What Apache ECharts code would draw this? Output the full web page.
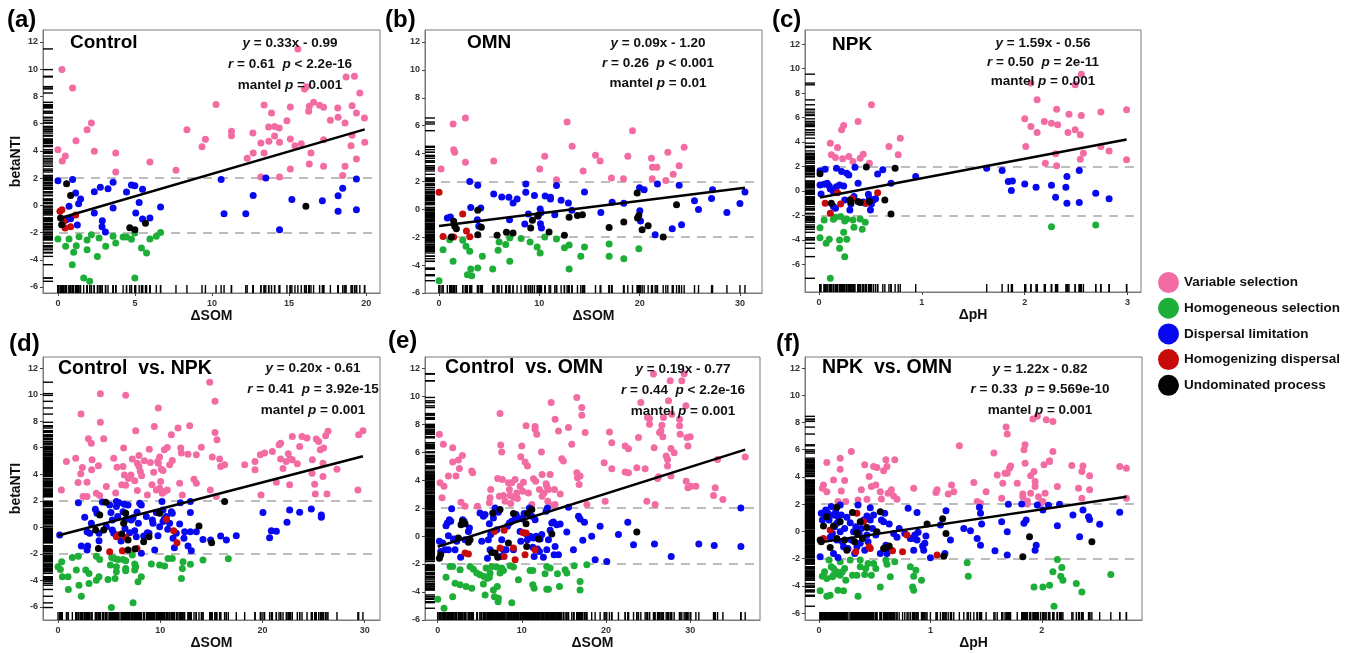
<!DOCTYPE html>
<html><head><meta charset="utf-8">
<script src="https://cdn.jsdelivr.net/npm/echarts@6/dist/echarts.min.js"></script>
<style>html,body{margin:0;padding:0;background:#fff}#c{width:1356px;height:653px}</style>
</head><body><div id="c"></div>
<script>
const CATEGORIES = ['Variable selection','Homogeneous selection','Dispersal limitation','Homogenizing dispersal','Undominated process'];
const COLORS = ['#F26CA3','#1DAE38','#0808EE','#C80A0A','#050505'];

// (a) Control
const a_vs = [[0,4.09],[0.28,3.26],[0.26,9.97],[0.48,3.62],[0.95,8.62],[1.17,4.75],[1.89,5.56],[2.17,6.05],[2.36,3.97],[3.75,3.85],[3.75,2.45],[5.97,3.18],[7.66,2.57],[8.37,5.56],[9.35,4.31],[9.57,4.85],[10.26,7.4],[11.26,5.44],[11.26,5.12],[12.28,3.45],[12.65,5.31],[12.67,3.85],[13.17,4.58],[13.17,2.08],[13.38,7.37],[13.38,3.85],[13.67,5.76],[13.69,4.7],[13.86,6.78],[14.06,5.8],[14.06,5.09],[14.36,5.68],[14.38,4.63],[14.38,2.08],[14.86,6.22],[15.08,7.22],[15.08,4.87],[15.08,2.67],[15.38,4.38],[15.57,11.49],[15.79,4.53],[16.0,8.55],[16.12,8.72],[16.27,6.91],[16.31,7.27],[16.31,3.04],[16.42,3.85],[16.59,7.57],[16.98,7.35],[17.24,7.2],[17.24,4.82],[17.24,2.87],[17.68,6.25],[18.16,7.15],[18.18,6.47],[18.63,6.05],[18.63,2.87],[18.48,2.2],[18.7,9.43],[19.09,7.32],[19.09,5.14],[19.02,4.38],[19.24,9.48],[19.37,6.78],[19.37,3.4],[19.59,8.25],[19.89,6.42],[19.91,4.63]];
const a_hs = [[0,-2.47],[0.5,-3.01],[0.72,-2.47],[1.02,-3.45],[0.93,-4.36],[1.19,-2.96],[1.37,-2.3],[1.67,-5.34],[1.89,-2.55],[2.06,-5.58],[2.17,-2.16],[1.89,-3.26],[2.56,-3.75],[2.67,-2.4],[3.1,-3.01],[3.58,-2.28],[3.75,-2.77],[4.23,-2.33],[4.45,-2.33],[4.77,-2.5],[4.99,-2.03],[4.99,-5.34],[5.42,-3.13],[5.75,-3.5],[5.97,-2.47],[6.38,-2.28],[6.66,-2.0]];
const a_dl = [[0,1.81],[0.95,1.89],[1.15,0.91],[0.72,-0.07],[1.34,0.12],[1.47,0.47],[0.82,-0.98],[0.54,-1.05],[1.26,-1.44],[2.36,1.0],[2.36,-0.56],[2.75,1.32],[2.88,-1.13],[2.86,-1.57],[3.08,-1.96],[3.25,1.22],[3.58,1.69],[3.58,-0.2],[4.45,0.98],[4.77,1.49],[4.99,1.44],[5.27,0.2],[5.05,-0.56],[5.49,1.18],[5.49,-1.0],[5.97,-0.93],[6.66,-0.12],[10.59,1.89],[10.78,-0.61],[12.19,-0.61],[12.67,0.73],[13.49,2.0],[14.38,-1.79],[15.18,0.42],[17.16,0.34],[18.18,0.71],[18.18,-0.44],[18.48,1.25],[19.37,1.93],[19.37,-0.32]];
const a_hd = [[0.13,-0.44],[0.26,-0.32],[0.46,-1.67],[0.82,-1.57],[1.15,-0.71],[0.37,-1.18]];
const a_up = [[0.56,1.59],[0.82,0.73],[0.24,-1.42],[0.17,-0.93],[4.66,-1.64],[4.99,-1.79],[5.68,-1.32],[16.09,-0.07]];

// (b) OMN
const b_vs = [[0.2,2.89],[1.4,6.12],[1.46,4.28],[1.56,4.09],[2.63,6.55],[2.63,3.37],[5.45,3.47],[10.04,2.89],[10.54,3.8],[11.71,2.13],[12.77,6.26],[13.27,4.52],[14.37,2.75],[15.6,3.87],[16.06,3.47],[17.19,2.25],[18.39,2.2],[18.82,3.8],[19.29,5.64],[21.18,3.66],[21.28,3.01],[21.72,3.01],[21.25,2.2],[22.61,2.06],[22.81,4.09],[23.35,2.51],[23.94,3.13],[24.44,4.45]];
const b_hs = [[0,-5.12],[0.4,-2.89],[1.06,-2.18],[1.4,-3.73],[2.36,-2.22],[2.69,-2.65],[2.83,-4.69],[3.06,-3.01],[3.16,-4.28],[3.26,-4.76],[3.86,-4.21],[4.32,-3.37],[5.35,-4.28],[5.89,-2.94],[5.99,-2.34],[6.65,-2.53],[7.05,-2.06],[7.05,-3.73],[8.18,-2.1],[9.08,-2.34],[9.78,-2.7],[10.08,-3.13],[10.54,-1.98],[11.71,-2.13],[12.5,-2.75],[12.97,-2.56],[12.97,-4.28],[14.13,-3.37],[14.5,-2.7],[16.96,-2.49],[16.96,-3.37],[18.42,-3.54],[19.92,-2.82]];
const b_dl = [[0.83,-0.62],[1.13,-0.55],[3.06,2.0],[3.16,0.14],[3.86,1.72],[3.82,-0.74],[4.16,0.1],[3.96,-1.22],[5.45,1.1],[6.25,0.88],[6.96,0.86],[7.03,-0.74],[7.38,0.45],[7.78,0.74],[8.65,1.82],[8.65,1.22],[8.55,-1.05],[8.91,-0.33],[9.51,1.0],[9.88,-0.5],[10.08,0.02],[10.18,-0.22],[10.11,-1.03],[10.21,-1.34],[10.58,0.96],[11.11,0.74],[11.11,0.86],[11.54,-0.38],[11.71,1.7],[12.17,0.65],[12.9,0.45],[13.24,-0.07],[14.5,1.24],[16.13,-0.22],[17.26,0.5],[18.42,0.43],[19.99,1.55],[20.45,1.41],[20.02,-0.1],[20.09,-0.84],[21.78,1.82],[21.55,-1.82],[23.94,1.72],[23.25,-1.39],[24.18,-1.1],[25.47,0.62],[25.87,-0.02],[27.27,1.41],[27.17,0.77],[28.7,-0.22],[30.0,0.41],[30.5,1.24]];
const b_hd = [[0,1.22],[0.4,-1.94],[1.46,-1.98],[2.36,-0.33],[2.73,-1.55],[3.06,-1.96]];
const b_up = [[1.23,-1.98],[1.46,-0.86],[1.56,-1.22],[1.73,-1.39],[3.86,-0.07],[4.22,-1.29],[3.86,-1.82],[5.79,-1.86],[6.72,-1.65],[7.38,-1.7],[9.14,-1.34],[9.31,-0.79],[9.84,-0.45],[10.97,-1.63],[12.5,-1.86],[12.97,-0.57],[13.8,-0.45],[14.3,-0.38],[16.96,-1.31],[18.42,-0.91],[19.75,1.17],[19.79,-0.62],[19.92,-0.45],[20.25,-1.46],[20.85,-1.17],[23.68,0.33],[22.35,-1.98]];

// (c) NPK
const c_vs = [[0.11,3.9],[0.12,2.95],[0.16,2.73],[0.18,3.55],[0.22,4.99],[0.24,5.35],[0.23,2.62],[0.29,2.81],[0.33,2.4],[0.38,5.67],[0.4,2.67],[0.43,3.0],[0.49,2.26],[0.51,7.04],[0.68,3.63],[0.77,2.95],[0.79,4.31],[2.01,3.63],[2.0,5.89],[2.06,5.26],[2.12,4.77],[2.12,7.44],[2.19,5.67],[2.2,2.26],[2.26,5.54],[2.31,6.68],[2.32,5.4],[2.31,2.05],[2.3,3.03],[2.43,6.27],[2.42,4.77],[2.49,4.99],[2.49,8.67],[2.54,4.58],[2.55,9.54],[2.55,6.16],[2.54,2.59],[2.57,3.08],[2.74,6.44],[2.74,3.63],[2.82,3.27],[2.99,6.63],[2.99,2.54],[2.06,8.81]];
const c_hs = [[0.01,-3.0],[0.01,-3.82],[0.05,-2.37],[0.07,-4.28],[0.1,-3.95],[0.11,-7.14],[0.14,-2.32],[0.16,-2.15],[0.2,-4.69],[0.2,-4.01],[0.21,-2.1],[0.24,-3.38],[0.25,-2.45],[0.27,-2.29],[0.25,-5.37],[0.27,-3.95],[0.33,-2.37],[0.34,-2.97],[0.4,-2.29],[0.42,-3.14],[0.45,-2.56],[2.26,-2.92],[2.69,-2.78]];
const c_dl = [[0.01,1.64],[0.06,1.77],[0.01,0.49],[0.05,0.55],[0.08,0.63],[0.1,0.41],[0.02,-0.25],[0.11,0.16],[0.14,-0.05],[0.17,1.85],[0.17,0.35],[0.14,-1.28],[0.16,-1.42],[0.2,0.49],[0.22,1.58],[0.24,0.41],[0.27,1.45],[0.29,1.31],[0.25,-0.74],[0.3,-1.55],[0.31,-1.06],[0.35,1.94],[0.34,-0.46],[0.38,0.63],[0.43,-0.9],[0.45,-1.01],[0.48,-0.27],[0.49,-0.6],[0.51,-1.06],[0.5,-1.55],[0.53,-0.74],[0.55,-0.65],[0.57,1.39],[0.62,1.72],[0.7,0.63],[0.94,1.17],[1.63,1.85],[1.78,1.66],[1.84,0.76],[1.88,0.82],[1.87,0.03],[2.0,0.57],[2.11,0.3],[2.26,0.46],[2.3,-0.52],[2.41,-1.01],[2.41,1.17],[2.4,0.3],[2.53,1.66],[2.53,-0.95],[2.69,-0.19],[2.82,-0.63]];
const c_hd = [[0.06,-1.01],[0.11,-1.83],[0.18,-0.14],[0.21,-1.06],[0.32,-0.65],[0.57,-0.14],[0.46,-1.01]];
const c_up = [[0.01,1.4],[0.12,-1.01],[0.3,-0.74],[0.31,-0.93],[0.38,-0.87],[0.4,-0.95],[0.46,1.95],[0.49,-0.87],[0.64,-0.74],[0.7,-1.88],[0.74,1.85]];

// (d) Control vs. NPK
const d_vs = [[0.33,2.82],[0.82,4.96],[1.73,5.21],[1.96,3.37],[2.25,8.53],[2.22,4.03],[2.38,4.51],[2.45,2.32],[2.84,2.32],[2.84,3.4],[2.97,6.67],[3.26,6.34],[3.29,4.33],[3.33,5.09],[3.75,2.57],[3.95,4.63],[4.08,2.39],[4.14,10.07],[4.14,7.91],[4.47,6.67],[4.73,3.07],[5.45,5.21],[5.64,2.59],[5.77,4.53],[6.23,3.2],[6.36,4.58],[6.42,5.97],[6.49,3.95],[6.62,9.94],[6.62,3.17],[6.88,3.68],[7.14,3.95],[7.27,5.14],[7.6,7.28],[7.5,3.5],[7.76,4.83],[7.76,2.77],[7.92,5.41],[7.92,4.58],[8.05,4.2],[8.18,3.88],[8.44,5.01],[8.74,2.44],[8.93,5.89],[9.03,4.88],[9.19,3.2],[9.36,4.15],[9.42,7.6],[9.62,2.82],[9.75,4.96],[9.81,4.83],[9.81,8.99],[9.94,2.95],[9.94,5.29],[10.04,3.45],[10.11,4.38],[10.2,2.57],[10.27,4.28],[10.4,5.84],[10.43,2.69],[10.69,6.02],[10.69,2.82],[10.92,4.71],[11.09,6.97],[11.18,5.04],[11.74,7.48],[11.9,3.32],[12.0,5.97],[12.07,5.59],[12.16,2.44],[12.72,5.51],[12.88,7.65],[13.3,3.63],[13.53,3.32],[13.53,5.46],[14.02,6.04],[14.84,10.93],[14.9,2.82],[15.09,5.29],[15.36,9.49],[15.49,2.32],[15.36,7.15],[15.55,6.6],[15.81,5.14],[15.91,4.58],[16.3,4.71],[18.26,4.71],[19.27,4.96],[19.27,4.33],[19.79,5.46],[19.86,2.44],[20.21,5.59],[20.97,5.72],[21.36,3.4],[21.62,6.22],[21.78,6.34],[21.78,5.14],[22.01,4.43],[22.33,4.96],[22.53,5.54],[22.66,3.2],[22.73,5.14],[22.92,6.85],[22.92,5.09],[23.41,4.78],[23.64,6.09],[23.87,6.85],[24.36,6.72],[24.85,4.08],[24.88,5.09],[25.11,3.25],[25.17,2.52],[25.27,6.65],[25.5,6.47],[25.66,5.84],[25.99,5.97],[25.92,3.83],[25.92,4.83],[26.18,6.9],[26.41,7.23],[26.31,2.52],[27.29,4.38],[29.41,6.97],[29.83,7.28],[29.34,2.82]];
const d_hs = [[0,-2.97],[0.23,-3.17],[0.42,-3.73],[0.36,-2.59],[0.98,-3.73],[1.01,-4.68],[1.4,-2.27],[1.79,-3.22],[1.99,-2.17],[2.05,-4.36],[2.28,-5.19],[2.71,-3.22],[3.03,-3.47],[3.03,-4.23],[3.75,-3.98],[3.75,-2.17],[4.01,-3.73],[4.08,-2.42],[4.89,-3.93],[5.12,-2.84],[5.22,-6.04],[5.25,-2.27],[5.54,-2.34],[5.58,-3.85],[5.71,-2.97],[5.71,-3.35],[5.87,-2.42],[6.36,-2.42],[6.62,-2.52],[6.62,-3.1],[6.62,-3.27],[7.27,-2.09],[7.34,-5.69],[7.5,-2.77],[7.5,-3.22],[7.6,-2.97],[7.83,-4.1],[8.15,-3.73],[9.13,-2.77],[9.94,-2.84],[10.43,-2.92],[10.76,-2.34],[11.18,-2.34],[12.23,-2.59],[12.16,-3.1],[12.07,-3.85],[12.95,-2.79],[14.18,-2.47],[16.66,-2.37]];
const d_dl = [[0.16,-0.58],[1.99,1.86],[2.61,0.76],[2.28,-1.41],[2.84,-0.33],[2.9,-1.41],[2.84,-1.71],[3.1,-0.45],[3.26,0.3],[3.65,1.36],[3.81,1.06],[4.01,-0.45],[4.01,-1.01],[4.34,1.91],[4.73,0.05],[5.05,1.69],[5.18,1.11],[5.31,0.55],[5.31,-0.2],[5.45,-0.45],[5.71,1.94],[5.71,1.56],[5.84,0.81],[5.97,1.86],[6.16,-1.03],[6.36,1.18],[6.49,1.74],[6.55,-0.08],[6.68,0.6],[6.85,1.69],[7.01,-0.4],[7.17,0.55],[7.34,0.73],[7.5,-0.25],[7.66,-0.7],[7.73,1.13],[7.86,0.3],[7.99,1.81],[8.15,1.69],[8.15,-1.96],[8.38,-0.65],[8.64,0.81],[8.74,-0.4],[8.9,-0.45],[9.23,0.55],[9.29,0.3],[9.46,-1.71],[9.62,1.11],[9.78,-0.63],[9.94,0.05],[10.17,1.94],[10.27,1.31],[10.27,0.43],[10.4,0.63],[10.6,0.81],[10.73,-0.15],[10.92,0.3],[11.09,1.18],[11.18,1.06],[11.38,-1.54],[11.25,-0.83],[11.57,-0.45],[11.9,0.25],[11.97,1.86],[12.32,-0.83],[12.39,-0.33],[12.72,-1.41],[12.95,1.94],[12.95,-0.33],[13.04,-1.76],[12.95,1.11],[13.53,-0.33],[14.18,-0.91],[14.93,-0.96],[15.91,-0.65],[16.47,-0.96],[17.44,-0.63],[20.05,1.11],[20.7,-0.78],[20.87,-0.25],[21.36,-0.3],[22.4,0.38],[22.66,1.31],[23.64,1.13],[24.78,1.38],[25.76,0.93],[25.76,0.76]];
const d_hd = [[5.05,-1.84],[5.71,-0.7],[5.87,-0.58],[6.29,-1.76],[6.62,-0.76],[7.73,-1.59],[10.6,0.6],[11.31,-0.25],[11.64,-1.16]];
const d_up = [[4.08,0.93],[3.68,-0.2],[3.95,-1.59],[4.47,-0.2],[4.66,1.89],[6.23,-0.5],[6.42,0.3],[6.62,1.06],[6.85,-0.96],[6.85,-1.71],[7.53,-1.64],[8.38,-1.08],[8.9,-0.7],[9.94,1.06],[13.79,0.1],[15.03,-1.16],[16.3,1.94]];

// (e) Control vs. OMN
const e_vs = [[0.2,7.27],[0.28,3.8],[0.52,2.73],[0.67,6.55],[0.75,3.56],[1.27,4.28],[1.78,5.28],[1.78,6.31],[2.18,4.28],[2.46,5.43],[2.58,4.83],[2.77,2.41],[2.93,5.76],[3.25,2.13],[4.04,4.64],[4.16,4.52],[4.72,2.13],[6.14,2.37],[6.22,2.73],[6.3,3.32],[7.13,4.11],[7.41,8.75],[7.49,6.5],[7.61,6.0],[7.69,4.04],[7.33,2.84],[7.81,2.89],[8.01,2.49],[8.4,3.8],[8.52,3.32],[8.6,2.89],[8.68,2.32],[8.8,3.8],[9.0,2.77],[9.2,4.04],[9.39,3.08],[9.47,2.68],[9.79,3.56],[9.87,5.67],[9.99,6.43],[10.11,3.2],[10.19,3.85],[10.38,5.28],[10.5,7.87],[10.66,5.0],[10.78,3.08],[11.18,2.25],[11.38,4.09],[11.57,7.82],[11.57,7.63],[11.65,3.92],[11.77,7.27],[12.09,3.32],[12.33,6.0],[12.41,4.4],[12.41,2.84],[12.64,3.08],[12.88,3.73],[12.96,3.56],[13.08,2.49],[13.16,3.32],[13.36,4.4],[13.48,9.54],[13.67,2.18],[13.87,3.32],[13.95,8.34],[13.95,2.25],[14.35,7.51],[14.55,3.01],[14.74,5.52],[14.94,5.36],[15.54,7.75],[15.93,6.55],[16.53,9.9],[16.53,4.52],[16.61,4.16],[16.81,3.68],[16.92,4.28],[17.12,9.18],[17.12,8.63],[17.52,7.39],[17.72,2.25],[19.9,2.49],[19.78,5.24],[20.41,7.43],[20.69,6.67],[20.69,4.81],[22.28,6.43],[22.67,6.24],[22.28,4.57],[22.67,4.52],[23.66,4.88],[23.86,7.03],[24.14,9.54],[24.65,4.81],[24.85,2.49],[24.93,8.46],[25.17,8.39],[25.17,7.98],[25.64,11.57],[25.72,6.31],[25.84,2.25],[26.12,4.11],[26.24,4.23],[26.36,7.39],[26.52,7.51],[26.64,7.91],[26.75,7.1],[26.83,8.46],[27.15,5.71],[27.31,5.47],[27.31,5.0],[27.43,9.66],[27.63,11.09],[27.71,4.28],[27.71,6.26],[27.82,8.7],[28.1,5.95],[28.74,8.34],[28.74,7.87],[28.81,7.27],[29.01,11.09],[29.29,11.6],[29.49,9.3],[29.53,3.92],[29.61,7.03],[29.73,6.43],[29.73,3.44],[30.0,7.1],[30.08,3.56],[30.68,3.56],[32.78,2.89],[32.98,3.44],[33.25,5.47],[33.89,2.61],[36.54,5.64]];
const e_hs = [[0,-4.52],[0.75,-5.16],[0.99,-2.94],[1.47,-2.18],[1.78,-2.18],[1.78,-4.33],[2.06,-3.37],[2.66,-2.41],[2.66,-3.49],[3.37,-3.61],[3.84,-2.18],[4.04,-3.73],[4.24,-2.37],[4.64,-2.65],[5.03,-2.77],[5.43,-3.42],[5.51,-2.89],[5.63,-4.21],[5.75,-2.29],[5.91,-3.01],[6.14,-2.94],[6.22,-2.65],[6.42,-2.18],[6.62,-3.85],[6.74,-4.33],[7.02,-2.22],[7.09,-3.61],[7.17,-4.69],[7.21,-4.45],[7.41,-2.65],[7.61,-2.29],[7.81,-2.46],[8.6,-2.13],[8.8,-4.76],[9.0,-2.22],[9.59,-3.13],[10.98,-2.46],[11.3,-2.46],[11.3,-3.49],[11.46,-3.73],[12.76,-2.7],[12.96,-3.8],[13.16,-3.8],[12.96,-2.18],[13.36,-2.29],[14.23,-2.7],[14.47,-3.61],[15.14,-2.41],[15.34,-2.65],[16.21,-2.13],[16.92,-3.25],[16.92,-3.85],[17.72,-2.06]];
const e_dl = [[0.2,-0.38],[0.36,-1.1],[0.59,-0.5],[0.87,-0.98],[0.99,0.74],[1.15,0.93],[1.27,0.02],[1.27,-0.98],[1.39,1.17],[1.55,1.05],[1.66,1.94],[1.86,-0.22],[2.06,-0.98],[2.18,-0.22],[2.26,-0.38],[2.73,-1.51],[2.97,1.17],[3.13,1.05],[3.25,-0.26],[3.65,0.33],[3.77,0.57],[5.03,1.65],[5.23,-0.38],[5.43,1.41],[5.63,1.53],[5.91,-1.58],[6.02,-0.26],[6.14,0.88],[6.22,-0.98],[6.3,0.1],[6.62,1.29],[6.82,2.0],[7.02,0.45],[7.21,1.7],[7.49,-1.46],[7.61,-0.26],[7.81,-0.98],[8.13,-0.98],[8.28,0.69],[8.52,0.93],[8.8,1.05],[9.0,-0.98],[9.2,1.22],[9.31,1.53],[9.59,1.29],[9.79,0.33],[9.87,-0.38],[10.11,1.22],[10.27,1.6],[10.5,0.17],[10.66,-0.26],[10.9,2.0],[10.98,-0.02],[11.18,1.41],[11.3,-0.81],[11.38,-0.14],[11.46,-1.46],[11.57,1.17],[11.69,-0.02],[11.85,-0.93],[12.09,-1.1],[12.17,-0.22],[12.37,0.1],[12.56,-1.51],[12.88,1.77],[12.96,-0.98],[13.04,2.0],[13.16,-0.26],[13.36,0.41],[13.56,0.93],[13.75,1.0],[13.83,-1.34],[13.95,-0.74],[14.15,0.81],[14.35,-1.34],[14.55,0.86],[15.34,0.29],[15.54,2.06],[16.13,-0.98],[16.73,1.41],[16.92,1.22],[17.24,-0.31],[17.44,0.98],[18.3,-0.02],[18.71,-1.7],[19.3,0.69],[20.09,-1.82],[21.48,0.1],[22.59,0.98],[23.27,-0.62],[25.76,-0.57],[27.75,-1.46],[31.03,-0.57],[32.86,-0.67],[36.03,2.0],[36.03,-0.74]];
const e_hd = [[3.25,-1.22],[3.65,-1.29],[6.74,0.33],[7.41,-0.86],[7.89,0.41],[7.89,-1.46],[9.0,-0.86],[9.2,-1.7],[10.11,0.26],[10.5,0.21],[10.38,-1.34],[11.57,-0.98]];
const e_up = [[0.2,-1.58],[0.36,-1.34],[2.46,-0.14],[2.77,0.81],[2.93,1.05],[3.25,0.88],[3.65,-0.45],[3.84,-0.26],[6.54,1.65],[6.42,-1.17],[6.82,-1.22],[7.13,-1.51],[7.41,1.89],[8.4,-0.5],[9.0,1.6],[10.66,1.6],[10.5,0.88],[10.58,-0.74],[11.18,1.89],[12.0,-0.22],[13.56,0.14],[23.66,0.29]];

// (f) NPK vs. OMN
const f_vs = [[0.03,3.17],[0.04,3.41],[0.07,2.92],[0.07,5.06],[0.13,3.78],[0.17,2.19],[0.19,4.57],[0.19,5.38],[0.2,2.97],[0.23,3.73],[0.24,2.19],[0.29,5.87],[0.35,2.31],[0.38,3.05],[0.41,4.89],[0.43,2.36],[0.45,4.03],[0.47,3.29],[0.49,4.76],[0.51,3.41],[0.52,4.69],[0.55,2.92],[0.56,2.38],[0.58,4.45],[0.6,5.26],[0.61,4.76],[0.62,2.8],[0.65,3.05],[0.67,2.6],[0.68,5.26],[0.7,2.36],[0.85,3.17],[1.05,2.85],[1.06,3.05],[1.16,2.75],[1.19,3.41],[1.21,2.92],[1.26,6.29],[1.39,3.59],[1.42,2.19],[1.45,2.06],[1.5,2.92],[1.57,5.75],[1.6,4.15],[1.64,2.43],[1.65,3.54],[1.67,4.27],[1.68,7.66],[1.69,7.15],[1.69,4.27],[1.71,4.64],[1.72,4.81],[1.78,3.54],[1.83,2.75],[1.83,2.55],[1.84,5.99],[1.85,6.36],[1.85,5.01],[1.87,2.24],[1.87,2.01],[1.9,4.08],[1.9,2.8],[1.92,8.25],[1.93,4.4],[1.94,3.66],[1.94,3.29],[1.96,8.45],[1.97,2.55],[1.99,2.06],[2.01,2.19],[2.02,4.89],[2.03,2.8],[2.04,8.2],[2.07,5.13],[2.07,5.18],[2.1,8.08],[2.1,5.87],[2.14,3.29],[2.27,4.84],[2.33,3.17],[2.36,4.4],[2.37,4.81],[2.36,2.43],[2.43,4.08],[2.43,3.05],[2.7,4.76],[2.76,4.64],[2.76,2.43]];
const f_hs = [[0.01,-4.37],[0.03,-3.29],[0.05,-2.97],[0.07,-4.76],[0.07,-3.46],[0.09,-2.11],[0.1,-4.69],[0.11,-2.6],[0.12,-3.34],[0.13,-3.22],[0.13,-2.73],[0.15,-3.09],[0.16,-2.97],[0.17,-4.32],[0.19,-2.23],[0.19,-3.22],[0.21,-2.97],[0.22,-4.37],[0.23,-2.73],[0.24,-3.59],[0.28,-2.11],[0.3,-3.22],[0.34,-3.22],[0.35,-4.76],[0.37,-2.6],[0.37,-2.11],[0.41,-3.17],[0.42,-2.73],[0.44,-2.36],[0.47,-3.22],[0.49,-2.36],[0.51,-2.73],[0.55,-4.08],[0.6,-2.11],[0.61,-2.41],[0.64,-3.34],[0.68,-2.23],[0.82,-2.6],[0.84,-4.08],[0.85,-4.32],[0.85,-3.29],[0.87,-2.85],[0.92,-3.59],[1.33,-2.31],[1.34,-3.29],[1.93,-4.08],[2.01,-4.08],[2.07,-3.95],[2.1,-2.97],[2.11,-5.5],[2.14,-2.06],[2.17,-3.29],[2.18,-2.65],[2.19,-3.59],[2.31,-3.83],[2.36,-4.45],[2.62,-3.17]];
const f_dl = [[0.02,1.33],[0.01,-1.87],[0.03,0.83],[0.05,1.08],[0.06,1.57],[0.08,1.33],[0.09,0.83],[0.1,-0.44],[0.11,1.82],[0.12,-0.15],[0.13,1.2],[0.13,-1.62],[0.14,0.34],[0.15,1.45],[0.16,-0.64],[0.16,0.59],[0.17,1.08],[0.17,-1.92],[0.19,1.94],[0.19,-0.02],[0.2,1.2],[0.21,-0.76],[0.22,-1.13],[0.23,0.22],[0.25,1.03],[0.26,-1.25],[0.28,0.64],[0.29,-0.64],[0.31,-0.02],[0.32,-1.62],[0.33,0.34],[0.34,-1.13],[0.35,1.94],[0.36,-0.15],[0.37,-0.88],[0.38,0.22],[0.4,0.83],[0.41,-1.38],[0.43,1.13],[0.43,-0.27],[0.44,-0.76],[0.46,1.74],[0.46,0.83],[0.48,0.22],[0.49,1.2],[0.51,-0.27],[0.55,-1.62],[0.56,0.83],[0.58,0.71],[0.59,1.33],[0.6,-1.01],[0.61,-1.62],[0.63,0.54],[0.65,-1.38],[0.67,-0.15],[0.7,-0.44],[0.72,0.22],[0.77,-0.15],[0.8,1.69],[0.82,-0.52],[0.84,-0.52],[0.85,-1.38],[0.86,-0.27],[0.88,-0.64],[0.88,1.38],[0.89,-0.07],[0.93,-1.08],[0.94,-1.38],[0.95,-0.88],[0.96,-0.34],[1.0,-1.94],[1.09,0.47],[1.13,-1.62],[1.14,1.52],[1.18,-0.64],[1.3,0.22],[1.36,0.05],[1.42,-0.52],[1.44,1.77],[1.45,1.33],[1.46,0.54],[1.45,-1.01],[1.58,-1.42],[1.64,0.71],[1.69,-0.02],[1.69,-1.74],[1.7,1.99],[1.82,2.01],[1.84,0.59],[1.86,0.83],[1.94,-1.38],[1.95,-1.01],[2.01,1.57],[1.96,1.94],[2.06,1.92],[2.14,0.42],[2.16,1.99],[2.28,1.2],[2.34,-0.39],[2.37,1.57],[2.42,1.08],[2.43,0.88],[2.52,0.52],[2.7,1.4]];
const f_hd = [[0.04,-0.52],[0.1,0.1],[0.34,1.33],[0.4,0.71],[0.45,-1.13],[0.46,-1.25],[0.33,-1.5],[0.66,-1.42],[0.75,-1.5],[0.79,-0.27],[1.06,-1.74]];
const f_up = [[0.01,-0.64],[0.02,-0.76],[0.04,0.39],[0.07,1.08],[0.1,-1.18],[0.13,0.39],[0.16,1.77],[0.16,-0.52],[0.19,0.71],[0.23,-0.64],[0.25,-1.38],[0.3,1.38],[0.32,-0.76],[0.34,-0.1],[0.37,0.71],[0.39,-0.52],[0.43,0.29],[0.52,-0.02],[0.55,1.45],[0.58,-1.25],[0.6,-1.2],[0.63,-1.08],[0.97,0.54],[1.11,0.93],[1.14,-0.15],[1.12,-1.82],[1.89,-0.39],[1.83,-1.87],[2.45,-0.76]];

const PANEL_DATA = [
  [a_vs,a_hs,a_dl,a_hd,a_up],
  [b_vs,b_hs,b_dl,b_hd,b_up],
  [c_vs,c_hs,c_dl,c_hd,c_up],
  [d_vs,d_hs,d_dl,d_hd,d_up],
  [e_vs,e_hs,e_dl,e_hd,e_up],
  [f_vs,f_hs,f_dl,f_hd,f_up]
];
const X_TICKS = [[0,5,10,15,20],[0,10,20,30],[0,1,2,3],[0,10,20,30],[0,10,20,30],[0,1,2]];
const Y_TICKS = [-6,-4,-2,0,2,4,6,8,10,12];
const X_NAMES = ['ΔSOM','ΔSOM','ΔpH','ΔSOM','ΔSOM','ΔpH'];
const Y_NAME = 'betaNTI';
const PANEL_LABELS = ['(a)','(b)','(c)','(d)','(e)','(f)'];
const PANEL_TITLES = ['Control','OMN','NPK','Control  vs. NPK','Control  vs. OMN','NPK  vs. OMN'];
const EQ_TEXT = [
  ['{i|y} = 0.33x - 0.99','{i|r} = 0.61  {i|p} < 2.2e-16','mantel {i|p} = 0.001'],
  ['{i|y} = 0.09x - 1.20','{i|r} = 0.26  {i|p} < 0.001','mantel {i|p} = 0.01'],
  ['{i|y} = 1.59x - 0.56','{i|r} = 0.50  {i|p} = 2e-11','mantel {i|p} = 0.001'],
  ['{i|y} = 0.20x - 0.61','{i|r} = 0.41  {i|p} = 3.92e-15','mantel {i|p} = 0.001'],
  ['{i|y} = 0.19x - 0.77','{i|r} = 0.44  {i|p} < 2.2e-16','mantel {i|p} = 0.001'],
  ['{i|y} = 1.22x - 0.82','{i|r} = 0.33  {i|p} = 9.569e-10','mantel {i|p} = 0.001']
];
const SLOPES = [0.33,0.09,1.59,0.20,0.19,1.22];
const INTERCEPTS = [-0.99,-1.20,-0.56,-0.61,-0.77,-0.82];
const THRESHOLDS = [2,-2];

// ---- layout (pixels / axis ranges) ----
const LAYOUT = [
  {left:43, top:30, width:337, height:263, xMin:-0.97, xMax:20.9, yMin:-6.44, yMax:12.88},
  {left:425, top:30, width:337, height:263, xMin:-1.4, xMax:32.2, yMin:-6.0, yMax:12.86},
  {left:805, top:30, width:336, height:262, xMin:-0.136, xMax:3.13, yMin:-8.26, yMax:13.15},
  {left:43, top:357, width:337, height:263, xMin:-1.47, xMax:31.5, yMin:-6.98, yMax:12.83},
  {left:425, top:357, width:335, height:263, xMin:-1.51, xMax:38.3, yMin:-6.0, yMax:12.79},
  {left:805, top:357, width:337, height:263, xMin:-0.126, xMax:2.9, yMin:-6.51, yMax:12.81}
];
const LABEL_POS = [[7,20],[385,20],[772,20],[9,344],[388,341],[776,344]];
const TITLE_POS = [[70,43],[467,43],[832,45],[58,369],[445,368],[822,368]];
const EQ_POS = [[290,43,21],[658,43,20],[1043,43,19],[313,368,21],[683,369,21],[1040,369,20.5]];
const FONT = '"Liberation Sans", Arial, Helvetica, sans-serif';

const grid = [], xAxis = [], yAxis = [], series = [], graphic = [];
LAYOUT.forEach((L, i) => {
  grid.push({left:L.left, top:L.top, width:L.width, height:L.height, show:true, borderColor:'#7a7a7a', borderWidth:1, backgroundColor:'transparent'});
  xAxis.push({
    gridIndex:i, type:'value', min:L.xMin, max:L.xMax,
    name:X_NAMES[i], nameLocation:'middle', nameGap:14,
    nameTextStyle:{fontSize:14, fontWeight:'bold', color:'#111', fontFamily:FONT},
    axisLine:{show:true, onZero:false, lineStyle:{color:'#7a7a7a', width:1}},
    axisTick:{show:true, length:3, customValues:X_TICKS[i], lineStyle:{color:'#444'}},
    axisLabel:{customValues:X_TICKS[i], fontSize:9, fontWeight:'bold', color:'#333', margin:6, fontFamily:FONT},
    splitLine:{show:false}
  });
  yAxis.push({
    gridIndex:i, type:'value', min:L.yMin, max:L.yMax,
    name:(i===0||i===3)?Y_NAME:'', nameLocation:'middle', nameGap:20,
    nameTextStyle:{fontSize:14, fontWeight:'bold', color:'#111', fontFamily:FONT},
    axisLine:{show:true, onZero:false, lineStyle:{color:'#7a7a7a', width:1}},
    axisTick:{show:true, length:3, customValues:Y_TICKS, lineStyle:{color:'#444'}},
    axisLabel:{customValues:Y_TICKS, fontSize:9, fontWeight:'bold', color:'#333', margin:5, fontFamily:FONT},
    splitLine:{show:false}
  });
  const groups = PANEL_DATA[i];
  const all = [].concat(...groups);
  // rugs
  series.push({type:'scatter', xAxisIndex:i, yAxisIndex:i, silent:true, clip:false, z:2,
    symbol:'rect', symbolSize:[1.4,8], symbolOffset:[0,-4], itemStyle:{color:'#000', opacity:1},
    data: all.map(p => [p[0], L.yMin])});
  series.push({type:'scatter', xAxisIndex:i, yAxisIndex:i, silent:true, clip:false, z:2,
    symbol:'rect', symbolSize:[10,1.4], symbolOffset:[5,0], itemStyle:{color:'#000', opacity:1},
    data: all.map(p => [L.xMin, p[1]])});
  // points
  groups.forEach((g, k) => {
    series.push({type:'scatter', name:CATEGORIES[k], xAxisIndex:i, yAxisIndex:i, z:3,
      symbol:'circle', symbolSize:7, itemStyle:{color:COLORS[k], opacity:1}, data:g});
  });
  // regression line + threshold lines
  const xs = all.map(p => p[0]);
  const x0 = Math.min(...xs), x1 = Math.max(...xs);
  series.push({type:'line', xAxisIndex:i, yAxisIndex:i, z:4, symbol:'none', silent:true,
    lineStyle:{color:'#000', width:2.5},
    data:[[x0, SLOPES[i]*x0 + INTERCEPTS[i]], [x1, SLOPES[i]*x1 + INTERCEPTS[i]]],
    markLine:{z:1, silent:true, symbol:['none','none'], label:{show:false},
      lineStyle:{color:'#bdbdbd', type:[9,7], width:2},
      data: THRESHOLDS.map(t => ({yAxis:t}))}
  });
  // texts
  graphic.push({type:'text', x:LABEL_POS[i][0], y:LABEL_POS[i][1], z:10,
    style:{text:PANEL_LABELS[i], fontSize:24, fontWeight:'bold', fontFamily:FONT, fill:'#000', align:'left', verticalAlign:'middle'}});
  graphic.push({type:'text', x:TITLE_POS[i][0], y:TITLE_POS[i][1], z:10,
    style:{text:PANEL_TITLES[i], fontSize:(i<3?19:19.5), fontWeight:'bold', fontFamily:FONT, fill:'#000', align:'left', verticalAlign:'middle'}});
  EQ_TEXT[i].forEach((t, j) => {
    graphic.push({type:'text', x:EQ_POS[i][0], y:EQ_POS[i][1] + j*EQ_POS[i][2], z:10,
      style:{text:t, fontSize:13.5, fontWeight:'bold', fontFamily:FONT, fill:'#111', align:'center', verticalAlign:'middle',
        rich:{i:{fontStyle:'italic', fontWeight:'bold', fontSize:13.5, fontFamily:FONT, fill:'#111'}}}});
  });
});

const chart = echarts.init(document.getElementById('c'), null, {renderer:'canvas'});
chart.setOption({
  animation:false,
  backgroundColor:'#fff',
  grid, xAxis, yAxis, series, graphic,
  legend:{data:CATEGORIES, orient:'vertical', left:1153, top:267, itemWidth:21, itemHeight:21, itemGap:4.7,
    icon:'circle', selectedMode:false, itemStyle:{opacity:1},
    textStyle:{fontSize:13.5, fontWeight:'bold', color:'#111', fontFamily:FONT}}
});
</script></body></html>
